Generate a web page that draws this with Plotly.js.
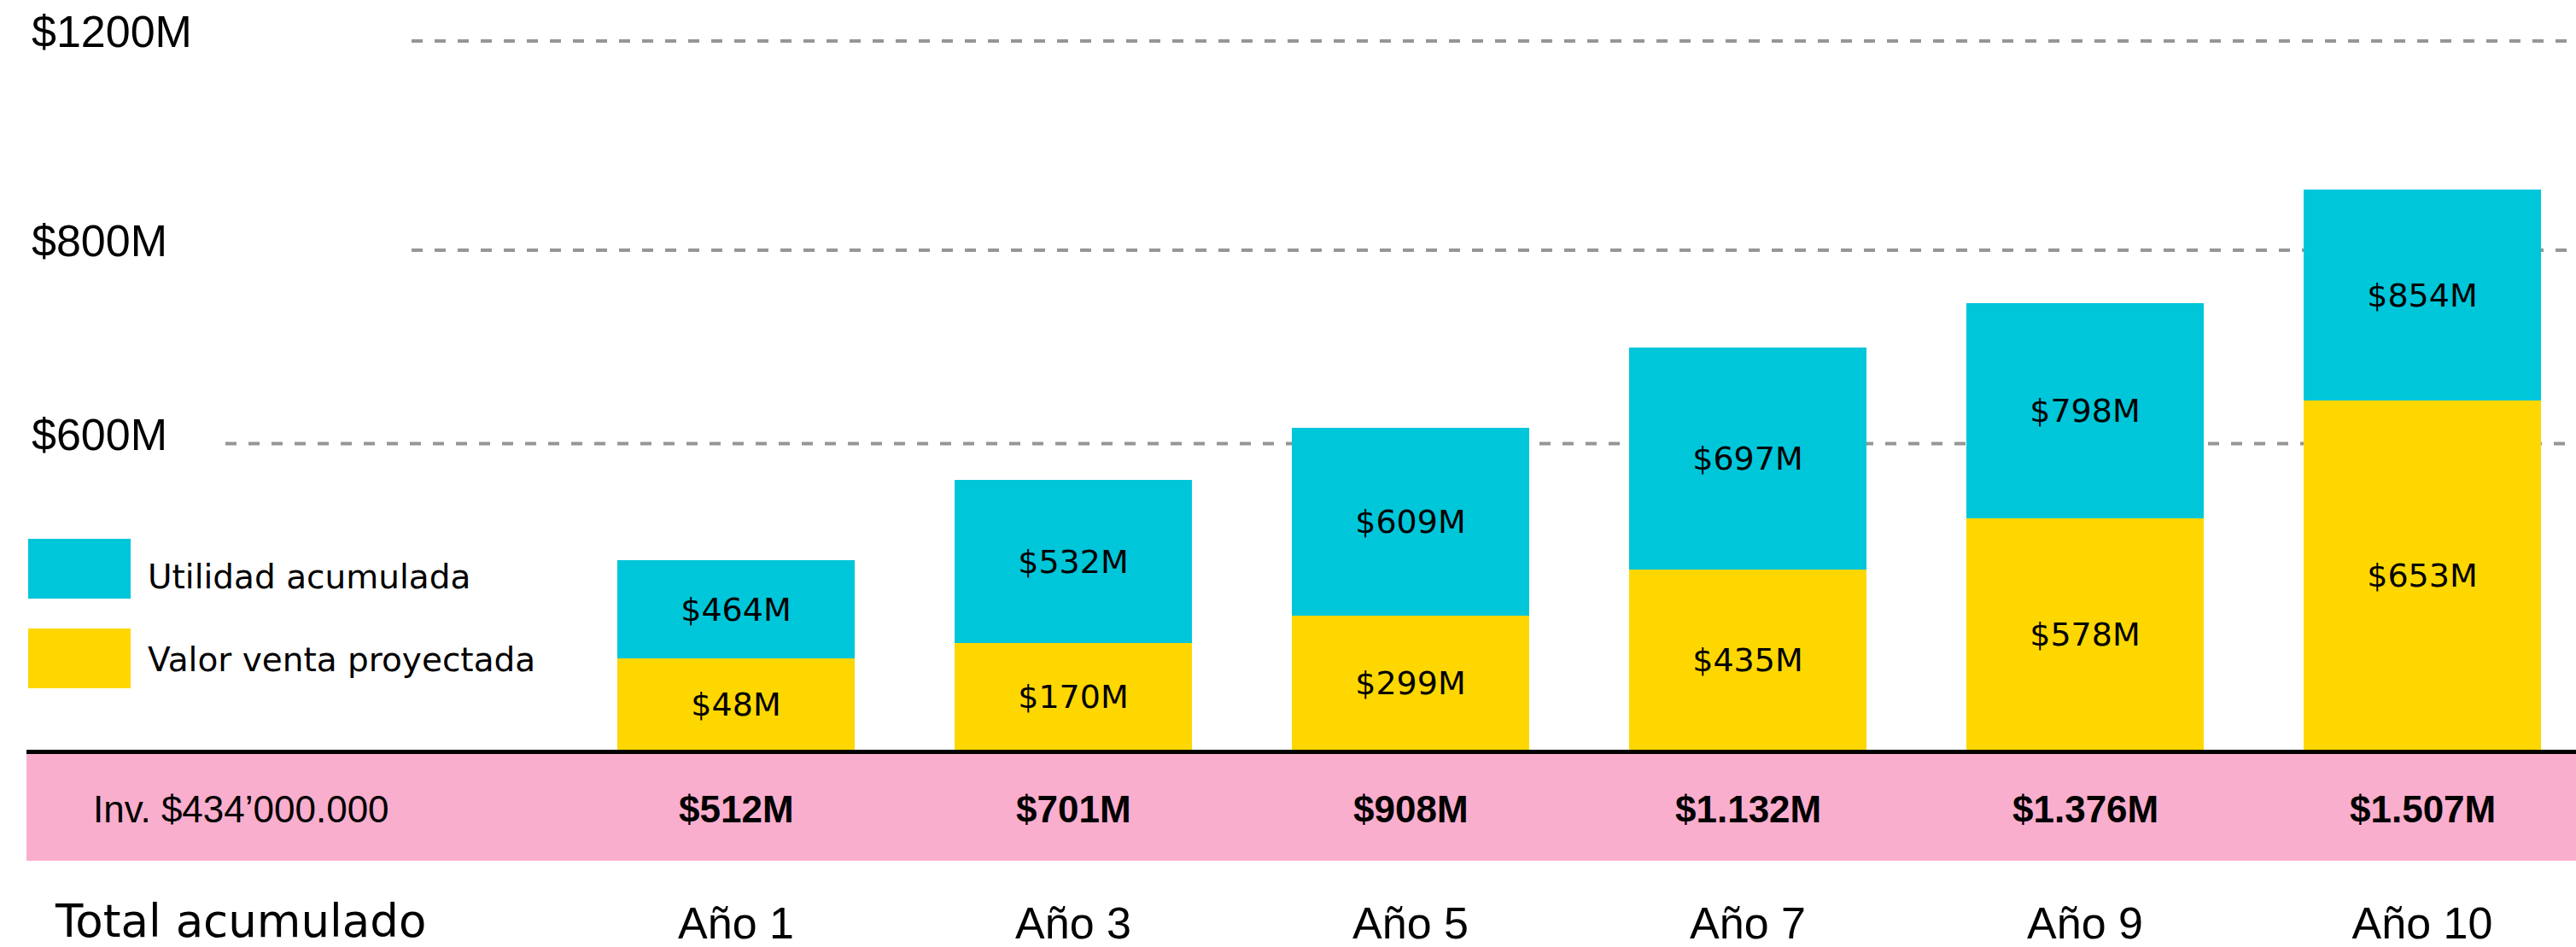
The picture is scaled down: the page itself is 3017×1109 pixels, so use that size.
<!DOCTYPE html>
<html><head><meta charset="utf-8">
<script src="https://cdn.plot.ly/plotly-3.0.1.min.js"></script>
<style>html,body{margin:0;padding:0;background:#fff;} #chart{width:3017px;height:1109px;}</style>
</head><body><div id="chart"></div>
<script>
// ---- data ----
const years = ['Año 1','Año 3','Año 5','Año 7','Año 9','Año 10'];
const valorVenta = [48,170,299,435,578,653];        // $M, yellow segment labels
const utilidad = [464,532,609,697,798,854];         // $M, cyan segment labels
const totalAcumulado = [512,701,908,1132,1376,1507];// $M, pink row
// drawn segment heights, read off the picture on the chart's decorative (non-linear) scale
const alturaVenta = [107,125,157,211,271,409];
const alturaUtilidad = [115,191,220,260,252,247];
const yTickText = ['$600M','$800M','$1200M'];
const yTickPos = [358.5,585,830];
const inversion = 'Inv. $434’000.000';
const firstColLabel = 'Total acumulado';
const legendNames = ['Utilidad acumulada','Valor venta proyectada'];

// ---- style ----
const W = 3017, H = 1109;
const CYAN = '#00C6DA', YELLOW = '#FED700', PINK = '#FAAECD', GRID = '#969696';
const GEO = 'DejaVu Sans', HEL = 'Liberation Sans, Arial, sans-serif';
const px = x => x / W;
const py = y => 1 - y / H;
const baseY = 878;

function fmt(v){
  const s = v >= 1000 ? Math.floor(v/1000) + '.' + String(v % 1000).padStart(3,'0') : String(v);
  return '$' + s + 'M';
}

const traces = [
  {type:'bar', x: years, y: alturaVenta, name: legendNames[1],
   marker:{color: YELLOW}, text: valorVenta.map(fmt), textposition:'inside',
   insidetextanchor:'middle', textangle:0, constraintext:'none',
   textfont:{family: GEO, size:38, color:'#000'}, hoverinfo:'skip'},
  {type:'bar', x: years, y: alturaUtilidad, name: legendNames[0],
   marker:{color: CYAN}, text: utilidad.map(fmt), textposition:'inside',
   insidetextanchor:'middle', textangle:0, constraintext:'none',
   textfont:{family: GEO, size:38, color:'#000'}, hoverinfo:'skip'}
];

const shapes = [];
// dashed reference lines
const gridStart = [264, 482, 482];
yTickPos.forEach((v,i) => shapes.push({type:'line', xref:'paper', yref:'y', layer:'below',
  x0: px(gridStart[i]), x1: 1, y0: v, y1: v, line:{color: GRID, width:4, dash:'13px,14px'}}));
// legend swatches
shapes.push({type:'rect', xref:'paper', yref:'paper', x0:px(33), x1:px(153), y0:py(701), y1:py(631), fillcolor:CYAN, line:{width:0}});
shapes.push({type:'rect', xref:'paper', yref:'paper', x0:px(33), x1:px(153), y0:py(806), y1:py(736), fillcolor:YELLOW, line:{width:0}});
// pink totals band and baseline
shapes.push({type:'rect', xref:'paper', yref:'paper', x0:px(31), x1:1, y0:py(1008), y1:py(883), fillcolor:PINK, line:{width:0}});
shapes.push({type:'rect', xref:'paper', yref:'paper', x0:px(31), x1:1, y0:py(883), y1:py(878), fillcolor:'#000', line:{width:0}});

const annotations = [];
yTickText.forEach((t,i) => annotations.push({xref:'paper', yref:'y', x:px(35), y:yTickPos[i], yshift:11,
  xanchor:'left', yanchor:'middle', text:t, showarrow:false, font:{family:HEL, size:52, color:'#000'}}));
annotations.push({xref:'paper', yref:'paper', x:px(171), y:py(676), xanchor:'left', yanchor:'middle',
  text: legendNames[0], showarrow:false, font:{family:GEO, size:39, color:'#000'}});
annotations.push({xref:'paper', yref:'paper', x:px(171), y:py(772), xanchor:'left', yanchor:'middle',
  text: legendNames[1], showarrow:false, font:{family:GEO, size:39, color:'#000'}});
annotations.push({xref:'paper', yref:'paper', x:px(107), y:py(947), xanchor:'left', yanchor:'middle',
  text: inversion, showarrow:false, font:{family:HEL, size:44, color:'#000'}});
totalAcumulado.forEach((v,i) => annotations.push({xref:'x', yref:'paper', x: years[i], y: py(947),
  xanchor:'center', yanchor:'middle', text: fmt(v), showarrow:false,
  font:{family:HEL, size:44, color:'#000', weight:700}}));
annotations.push({xref:'paper', yref:'paper', x:px(62), y:py(1078), xanchor:'left', yanchor:'middle',
  text: firstColLabel, showarrow:false, font:{family:GEO, size:53, color:'#000'}});

const layout = {
  width: W, height: H, margin:{l:0, r:0, t:0, b:0, pad:0},
  paper_bgcolor:'#fff', plot_bgcolor:'#fff', showlegend:false,
  barmode:'stack', bargap:0.295,
  xaxis:{type:'category', range:[-2.1823, 5.4557], domain:[0,1], anchor:'free', position: py(1046),
    showgrid:false, zeroline:false, showline:false, ticks:'',
    tickfont:{family:HEL, size:52, color:'#000'}, fixedrange:true},
  yaxis:{domain:[py(baseY), 1], range:[0, baseY], showgrid:false, zeroline:false,
    showline:false, showticklabels:false, ticks:'', fixedrange:true},
  shapes, annotations
};

Plotly.newPlot('chart', traces, layout, {staticPlot:true, displayModeBar:false});
</script></body></html>
